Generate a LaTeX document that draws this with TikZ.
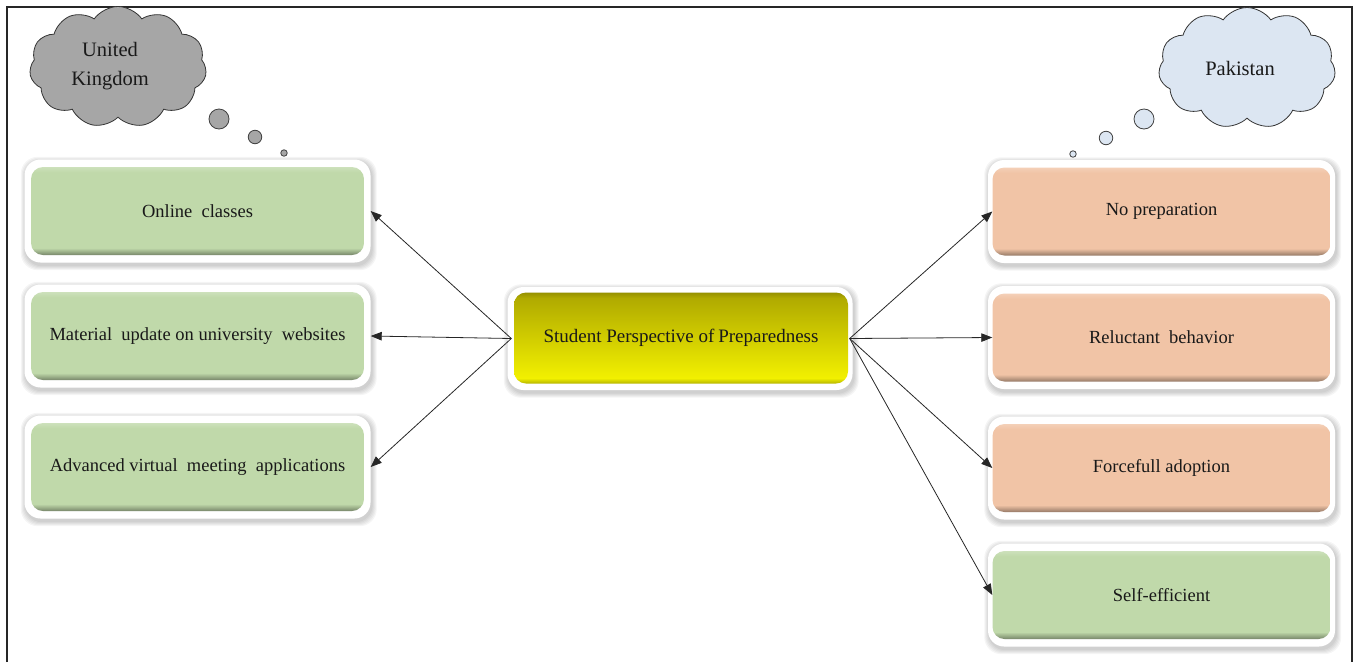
\documentclass[tikz,border=0pt]{standalone}
\usepackage{fontspec}
\setmainfont{Liberation Serif}
\usetikzlibrary{arrows.meta,shapes.symbols,backgrounds}
\definecolor{boxgreen}{RGB}{192,217,170}
\definecolor{boxorange}{RGB}{241,196,166}
\definecolor{ukgray}{RGB}{166,166,166}
\definecolor{pkblue}{RGB}{220,230,242}
\definecolor{yeltop}{RGB}{176,170,0}
\definecolor{yelbot}{RGB}{242,240,0}
\definecolor{txt}{RGB}{25,25,25}
\pgfdeclareverticalshading{greenbevel}{100bp}{color(0bp)=(boxgreen!62!black); color(25bp)=(boxgreen!62!black); color(29bp)=(boxgreen); color(72bp)=(boxgreen); color(75bp)=(boxgreen!80!white); color(100bp)=(boxgreen!80!white)}
\pgfdeclareverticalshading{orangebevel}{100bp}{color(0bp)=(boxorange!62!black); color(25bp)=(boxorange!62!black); color(29bp)=(boxorange); color(72bp)=(boxorange); color(75bp)=(boxorange!80!white); color(100bp)=(boxorange!80!white)}
\pgfdeclareverticalshading{yellowbevel}{100bp}{color(0bp)=(yelbot!75!black); color(25bp)=(yelbot!75!black); color(28bp)=(yelbot); color(72bp)=(yeltop); color(75bp)=(yeltop!85!black); color(100bp)=(yeltop!85!black)}
\newcommand{\bxshadow}[1]{%
  \foreach \i in {0,...,4}{%
    \fill[black,opacity=0.04,rounded corners=17pt] ([shift={(-\i+0.5,-\i+1.5)}]#1.north west) rectangle ([shift={(\i+2,\i+3.5)}]#1.south east);}}
\tikzset{
  outerbox/.style={shape=rectangle, fill=white, minimum width=346, minimum height=103, rounded corners=16pt},
  innerbox/.style={shape=rectangle, minimum width=333, minimum height=88, shading=#1, rounded corners=12pt,
    font=\fontsize{18.5}{22}\selectfont, text=txt},
  conn/.style={draw=black!85, line width=0.8pt, -{Triangle[length=11pt,width=8.5pt]}},
  thought/.style={cloud, cloud puffs=11, cloud puff arc=110, cloud ignores aspect, draw=black!80, line width=0.8pt},
  cloudtext/.style={font=\fontsize{20.5}{29}\selectfont, text=txt, align=center},
  bubble/.style={circle, draw=black!75, line width=0.8pt, inner sep=0pt},
}
\begin{document}
\begin{tikzpicture}[x=1pt,y=-1pt]
\useasboundingbox (0,0) rectangle (1357,662);
\draw[line width=1.2pt, black!85] (7,662) -- (7,7) -- (1352,7) -- (1352,662);

% clouds
\node[thought, fill=ukgray, minimum width=177, minimum height=121] (uk) at (118,67) {};
\node[cloudtext] (ukt) at (110,66) {United\\Kingdom};
\node[bubble, fill=ukgray, minimum size=20] (ukb1) at (219,119) {};
\node[bubble, fill=ukgray, minimum size=13.5] (ukb2) at (255,137) {};
\node[bubble, fill=ukgray, minimum size=6.5] (ukb3) at (284,153) {};

\node[thought, fill=pkblue, minimum width=177, minimum height=121] (pk) at (1247,68) {};
\node[cloudtext] (pkt) at (1240,68) {Pakistan};
\node[bubble, fill=pkblue, minimum size=20] (pkb1) at (1144,119) {};
\node[bubble, fill=pkblue, minimum size=13.5] (pkb2) at (1106,138) {};
\node[bubble, fill=pkblue, minimum size=6.5] (pkb3) at (1073,154) {};

% centre
\node[outerbox, minimum width=345, minimum height=103] (c) at (680,338.5) {};
\node[innerbox=yellowbevel, minimum width=334, minimum height=91, font=\fontsize{19}{22}\selectfont] (ci) at (681,338) {Student Perspective of\kern-1pt\ Preparedness};

% left
\node[outerbox] (l1) at (197.5,211) {};
\node[innerbox=greenbevel] (l1i) at (l1) {Online\ \ classes};
\node[outerbox] (l2) at (197.5,336) {};
\node[innerbox=greenbevel] (l2i) at (l2) {Material\ \ update on university\ \ websites};
\node[outerbox] (l3) at (197.5,467) {};
\node[innerbox=greenbevel] (l3i) at (l3) {Advanced virtual\ \ meeting\ \ applications};

% right
\node[outerbox, minimum width=347] (r1) at (1161.5,211.5) {};
\node[innerbox=orangebevel, minimum width=338] (r1i) at (r1) {No preparation};
\node[outerbox, minimum width=347] (r2) at (1161.5,337.5) {};
\node[innerbox=orangebevel, minimum width=338] (r2i) at (r2) {Reluctant\ \ behavior};
\node[outerbox, minimum width=347] (r3) at (1161.5,468) {};
\node[innerbox=orangebevel, minimum width=338] (r3i) at (r3) {Forcefull adoption};
\node[outerbox, minimum width=347] (r4) at (1161.5,595) {};
\node[innerbox=greenbevel, minimum width=338] (r4i) at (r4) {Self-efficient};

\begin{scope}[on background layer]
\bxshadow{c}\bxshadow{l1}\bxshadow{l2}\bxshadow{l3}
\bxshadow{r1}\bxshadow{r2}\bxshadow{r3}\bxshadow{r4}
\end{scope}

% connectors
\coordinate (cl) at ([xshift=4pt]c.west);
\coordinate (cr) at ([xshift=-3pt]c.east);
\draw[conn] (cl) -- (l1.east);
\draw[conn] (cl) -- (l2.east);
\draw[conn] (cl) -- (l3.east);
\draw[conn] (cr) -- (r1i.west);
\draw[conn] (cr) -- (r2i.west);
\draw[conn] (cr) -- (r3i.west);
\draw[conn] (cr) -- (r4i.west);
\end{tikzpicture}
\end{document}
